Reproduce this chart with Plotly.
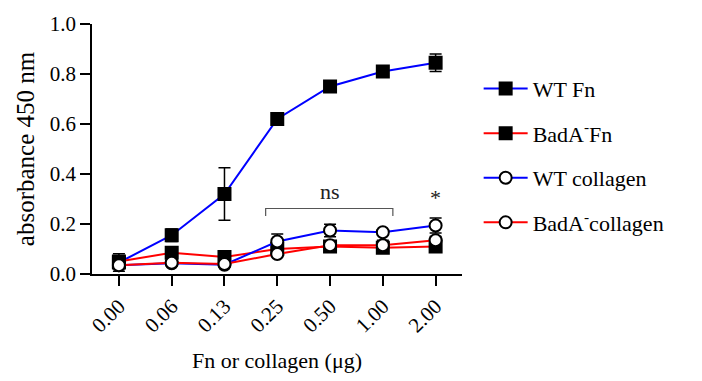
import plotly.graph_objects as go

categories = ["0.00", "0.06", "0.13", "0.25", "0.50", "1.00", "2.00"]

wt_fn = [0.046, 0.155, 0.32, 0.62, 0.75, 0.81, 0.845]
wt_fn_err = [0.035, 0.025, 0.105, 0.012, 0.01, 0.015, 0.035]
bada_fn = [0.05, 0.085, 0.068, 0.10, 0.11, 0.105, 0.11]
bada_fn_err = [0.02, 0.02, 0.01, 0.015, 0.012, 0.015, 0.01]
wt_col = [0.035, 0.043, 0.037, 0.13, 0.174, 0.167, 0.194]
wt_col_err = [0.01, 0.01, 0.005, 0.03, 0.025, 0.01, 0.03]
bada_col = [0.035, 0.045, 0.04, 0.08, 0.115, 0.115, 0.135]
bada_col_err = [0.01, 0.01, 0.005, 0.01, 0.01, 0.02, 0.015]

FONT = "Liberation Serif"
BLUE = "#0000FF"
RED = "#FF0000"

xi = list(range(len(categories)))

series = [
    ("WT Fn", wt_fn, wt_fn_err, BLUE, "square", "black"),
    ("BadA<sup>-</sup>Fn", bada_fn, bada_fn_err, RED, "square", "black"),
    ("WT collagen", wt_col, wt_col_err, BLUE, "circle", "white"),
    ("BadA<sup>-</sup>collagen", bada_col, bada_col_err, RED, "circle", "white"),
]

fig = go.Figure()
for i, (name, y, err, col, sym, fill) in enumerate(series):
    fig.add_trace(go.Scatter(
        x=xi, y=y, name=name, mode="lines+markers",
        legendgroup=f"g{i}",
        line=dict(color=col, width=2),
        marker=dict(symbol=sym, size=12, color=fill,
                    line=dict(color="black", width=2)),
        error_y=dict(type="data", array=err, visible=True,
                     color="black", thickness=1.5, width=6),
    ))

# significance annotations
fig.add_shape(type="path", xref="x", yref="y",
              path="M 2.78 0.232 L 2.78 0.262 L 5.19 0.262 L 5.19 0.232",
              line=dict(color="#555555", width=1.2))
fig.add_annotation(x=3.99, y=0.33, xref="x", yref="y", text="ns",
                   showarrow=False, font=dict(family=FONT, size=22, color="#222222"))
fig.add_annotation(x=6, y=0.305, xref="x", yref="y", text="*",
                   showarrow=False, font=dict(family=FONT, size=22, color="#222222"))

fig.update_layout(
    width=702, height=381,
    margin=dict(l=92, r=240, t=22, b=106),
    paper_bgcolor="white", plot_bgcolor="white",
    font=dict(family=FONT, size=20, color="black"),
    showlegend=True,
    legend=dict(x=1.045, y=0.825, xanchor="left", yanchor="top",
                font=dict(family=FONT, size=22), tracegroupgap=13,
                bgcolor="rgba(0,0,0,0)", itemwidth=44),
    xaxis=dict(
        tickmode="array", tickvals=xi, ticktext=categories,
        range=[-0.51, 6.5], tickangle=-45,
        showline=True, linecolor="black", linewidth=1.5,
        ticks="outside", ticklen=10, tickwidth=1.5, tickcolor="black",
        showgrid=False, zeroline=False,
        tickfont=dict(family=FONT, size=21),
        title=dict(text="Fn or collagen (μg)", font=dict(family=FONT, size=22), standoff=16),
    ),
    yaxis=dict(
        range=[0, 1.0], tickmode="linear", tick0=0, dtick=0.2, tickformat=".1f",
        showline=True, linecolor="black", linewidth=1.5,
        ticks="outside", ticklen=10, tickwidth=1.5, tickcolor="black",
        showgrid=False, zeroline=False,
        tickfont=dict(family=FONT, size=21),
        title=dict(text="absorbance 450 nm", font=dict(family=FONT, size=25), standoff=8),
    ),
)

fig.write_html("out.html")
